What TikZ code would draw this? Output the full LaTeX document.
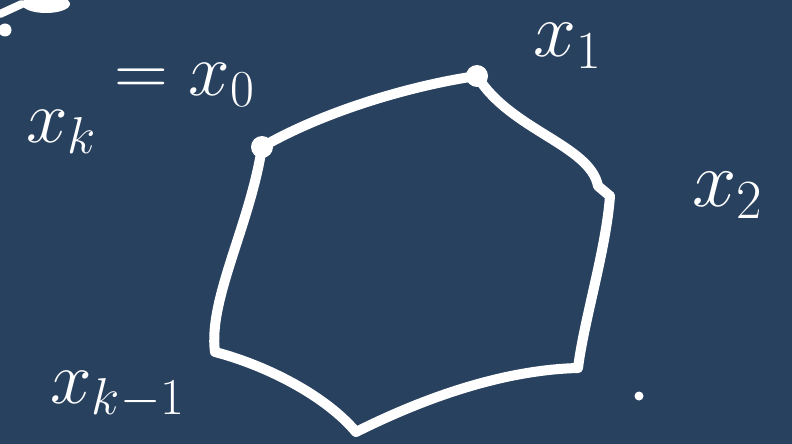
\documentclass[tikz,border=0pt]{standalone}
\usepackage{fontspec}
\usetikzlibrary{shapes.geometric}
\begin{document}
\begin{tikzpicture}[x=1pt,y=-1pt,
  chalk/.style={draw=white,line width=10pt,line cap=round,line join=round},
  lbl/.style={text=white,inner sep=0pt,font=\fontsize{24}{24}\selectfont},
  blob/.style={fill=white,circle,inner sep=0pt,minimum size=22pt}]
\definecolor{bg}{RGB}{40,65,95}
\fill[bg] (0,0) rectangle (792,444);
\useasboundingbox (0,0) rectangle (792,444);
% vertices
\node[blob] (v0) at (262,147) {};
\node[blob] (v1) at (477,76) {};
\coordinate (v2a) at (598,186);
\coordinate (v2) at (610,196);
\coordinate (v3) at (578,368);
\coordinate (v4) at (356,432);
\coordinate (v5) at (215,352);
% edges
\draw[chalk] (v0.center) .. controls (330,108) and (420,84) .. (v1.center);
\draw[chalk] (v1.center) .. controls (510,130) and (590,145) .. (v2a) -- (v2);
\draw[chalk] (v2) .. controls (606,250) and (584,320) .. (v3);
\draw[chalk] (v3) .. controls (500,370) and (420,400) .. (v4);
\draw[chalk] (v4) .. controls (325,395) and (265,365) .. (v5);
\draw[chalk] (v5) .. controls (208,300) and (250,225) .. (v0.center);
% labels
\node[lbl] (lk) at (62,132) {\scalebox{3}{$x_k$}};
\node[lbl] (lk2) at (185,85) {\scalebox{3}{$=x_0$}};
\node[lbl] (l1) at (568,46) {\scalebox{3.1}{$x_1$}};
\node[lbl] (l2) at (728,195) {\scalebox{3.2}{$x_2$}};
\node[lbl] (lkm) at (118,395) {\scalebox{3}{$x_{k-1}$}};
% stray marks
\node[fill=white,ellipse,inner sep=0pt,minimum width=48pt,minimum height=18pt] (s1) at (46,4) {};
\coordinate (s0) at (0,14);
\draw[chalk,line width=8pt] (s0) -- (s1.west);
\node[fill=white,circle,inner sep=0pt,minimum size=13pt] (d1) at (5,30) {};
\node[fill=white,circle,inner sep=0pt,minimum size=9pt] (d2) at (639,396) {};
\end{tikzpicture}
\end{document}
